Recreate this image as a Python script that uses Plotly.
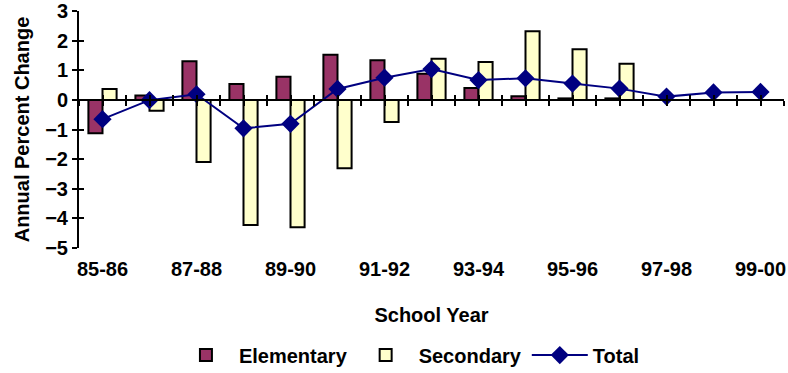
import plotly.graph_objects as go

# School years, 1985-86 through 1999-2000
school_years = ["85-86", "86-87", "87-88", "88-89", "89-90", "90-91", "91-92", "92-93",
                "93-94", "94-95", "95-96", "96-97", "97-98", "98-99", "99-00"]

# Annual percent change in enrollment
elementary = [-1.13, 0.15, 1.30, 0.54, 0.78, 1.52, 1.34, 0.88, 0.40, 0.12, 0.05, 0.05,
              None, None, None]
secondary = [0.37, -0.37, -2.10, -4.22, -4.30, -2.31, -0.75, 1.39, 1.28, 2.32, 1.71, 1.22,
             None, None, None]
total = [-0.65, -0.01, 0.19, -0.96, -0.81, 0.37, 0.75, 1.04, 0.67, 0.73, 0.55, 0.38,
         0.11, 0.25, 0.27]

y_ticks = [3, 2, 1, 0, -1, -2, -3, -4, -5]

FONT = "Liberation Sans, Arial, sans-serif"
FS = 20

idx = list(range(len(school_years)))
label_idx = idx[::2]
label_txt = school_years[::2]
half_ticks = [i / 2 - 0.5 for i in range(2 * len(school_years) + 1)]

fig = go.Figure()
fig.add_trace(go.Bar(
    x=idx, y=elementary, name="Elementary",
    marker=dict(color="#993366", line=dict(color="black", width=2)),
))
fig.add_trace(go.Bar(
    x=idx, y=secondary, name="Secondary",
    marker=dict(color="#FFFFCC", line=dict(color="black", width=2)),
))
fig.add_trace(go.Scatter(
    x=idx, y=total, name="Total", mode="lines+markers",
    line=dict(color="#000080", width=2),
    marker=dict(symbol="diamond", size=14, color="#000080"),
))

xr = [-0.5, len(school_years) - 0.5]
yr = [-5, 3]
zero_pos = (0 - yr[0]) / (yr[1] - yr[0])

fig.update_layout(
    width=788, height=373,
    margin=dict(l=79, r=4, t=11, b=125, autoexpand=False),
    paper_bgcolor="white", plot_bgcolor="white",
    font=dict(family=FONT, size=FS, color="black", weight="bold"),
    barmode="group", bargap=0.4, bargroupgap=0,
    showlegend=True,
    legend=dict(orientation="h", x=0.468, xanchor="center",
                yref="container", y=0.048, yanchor="middle",
                font=dict(family=FONT, size=FS, color="black", weight="bold"),
                itemwidth=56, tracegroupgap=0),
    xaxis=dict(
        range=xr, tickmode="array", tickvals=label_idx, ticktext=label_txt,
        showgrid=False, zeroline=False, showline=False, ticks="",
        ticklabelstandoff=7, automargin=False,
        tickfont=dict(family=FONT, size=FS, weight="bold"),
        title=dict(text="School Year", standoff=28,
                   font=dict(family=FONT, size=FS, weight="bold")),
    ),
    # category axis drawn along the zero line, ticks crossing it
    xaxis2=dict(
        overlaying="x", anchor="free", position=zero_pos, range=xr,
        tickmode="array", tickvals=half_ticks, showticklabels=False,
        showline=True, linecolor="black", linewidth=2,
        ticks="outside", ticklen=5, tickwidth=2, tickcolor="black",
        showgrid=False, zeroline=False, automargin=False,
    ),
    xaxis3=dict(
        overlaying="x", anchor="free", position=zero_pos, range=xr,
        tickmode="array", tickvals=half_ticks, showticklabels=False,
        showline=False,
        ticks="inside", ticklen=5, tickwidth=2, tickcolor="black",
        showgrid=False, zeroline=False, automargin=False,
    ),
    yaxis=dict(
        range=yr, tickmode="array", tickvals=y_ticks,
        showgrid=False, zeroline=False, automargin=False,
        showline=True, linecolor="black", linewidth=2,
        ticks="outside", ticklen=5, tickwidth=2, tickcolor="black",
        tickfont=dict(family=FONT, size=FS, weight="bold"),
        title=dict(text="Annual Percent Change", standoff=10,
                   font=dict(family=FONT, size=FS, weight="bold")),
    ),
    yaxis2=dict(
        overlaying="y", anchor="x", range=yr, tickmode="array", tickvals=y_ticks,
        showticklabels=False, showgrid=False, zeroline=False, showline=False,
        ticks="inside", ticklen=5, tickwidth=2, tickcolor="black", automargin=False,
    ),
)

# invisible carriers so the overlay axes are rendered
fig.add_trace(go.Scatter(x=[None], y=[None], xaxis="x2", yaxis="y", showlegend=False,
                         hoverinfo="skip"))
fig.add_trace(go.Scatter(x=[None], y=[None], xaxis="x3", yaxis="y", showlegend=False,
                         hoverinfo="skip"))
fig.add_trace(go.Scatter(x=[None], y=[None], xaxis="x", yaxis="y2", showlegend=False,
                         hoverinfo="skip"))

fig.write_html("out.html")
